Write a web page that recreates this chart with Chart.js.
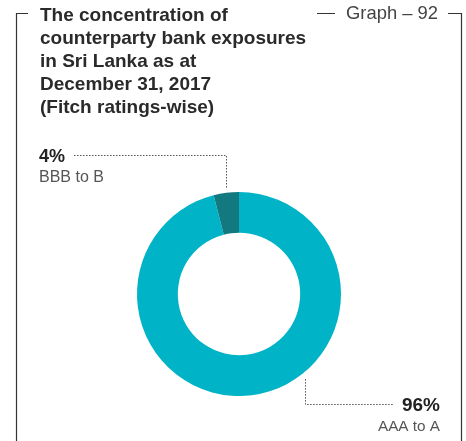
<!DOCTYPE html>
<html>
<head>
<meta charset="utf-8">
<script src="https://cdn.jsdelivr.net/npm/chart.js@4"></script>
<style>
  html, body { margin: 0; padding: 0; background: #fff; }
  #wrap { position: relative; width: 466px; height: 441px; }
</style>
</head>
<body>
<div id="wrap"><canvas id="graphCanvas" width="466" height="441"></canvas></div>
<script>
// Dữ liệu biểu đồ
const categories = ['AAA to A', 'BBB to B'];
const shares = [96, 4];
const segColors = ['#00b3c6', '#137980'];
const titleLines = [
  'The concentration of',
  'counterparty bank exposures',
  'in Sri Lanka as at',
  'December 31, 2017',
  '(Fitch ratings-wise)'
];
const graphNo = 'Graph \u2013 92';

const FONT = '"Liberation Sans", Arial, Helvetica, sans-serif';

// Khung, tiêu đề và nhãn chú thích
const decorPlugin = {
  id: 'decor',
  afterDraw(chart) {
    const c = chart.ctx;
    c.save();

    // khung viền
    c.strokeStyle = '#333';
    c.lineWidth = 1.2;
    c.beginPath();
    c.moveTo(28, 13.5); c.lineTo(16.5, 13.5); c.lineTo(16.5, 441);
    c.moveTo(448, 13.5); c.lineTo(461.5, 13.5); c.lineTo(461.5, 441);
    c.moveTo(317, 13.5); c.lineTo(335, 13.5);
    c.stroke();

    // tiêu đề
    c.fillStyle = '#2a2a2a';
    c.font = 'bold 19px ' + FONT;
    c.textBaseline = 'alphabetic';
    c.textAlign = 'left';
    titleLines.forEach((t, i) => c.fillText(t, 40, 21 + i * 23));

    c.fillStyle = '#444';
    c.font = '18.4px ' + FONT;
    c.fillText(graphNo, 346, 19);

    const meta = chart.getDatasetMeta(0);
    const small = meta.data[1];
    const big = meta.data[0];
    const cx = small.x, cy = small.y, r = small.outerRadius;

    c.strokeStyle = '#555';
    c.lineWidth = 1;
    c.setLineDash([1.5, 1.5]);

    // đường dẫn cho 4%
    const aS = (small.startAngle + small.endAngle) / 2;
    const sx = cx + Math.cos(aS) * (r + 5);
    const sy = cy + Math.sin(aS) * (r + 5);
    c.beginPath();
    c.moveTo(74, 155.5);
    c.lineTo(Math.round(sx) + 0.5, 155.5);
    c.lineTo(Math.round(sx) + 0.5, sy);
    c.stroke();

    // đường dẫn cho 96%
    const aB = big.startAngle + (big.endAngle - big.startAngle) * 0.411;
    const bx = cx + Math.cos(aB) * (r + 6);
    const by = cy + Math.sin(aB) * (r + 6);
    c.beginPath();
    c.moveTo(Math.round(bx) + 0.5, by);
    c.lineTo(Math.round(bx) + 0.5, 404.5);
    c.lineTo(393, 404.5);
    c.stroke();
    c.setLineDash([]);

    // nhãn
    c.fillStyle = '#222';
    c.font = 'bold 18px ' + FONT;
    c.textAlign = 'left';
    c.fillText(shares[1] + '%', 39, 162);
    c.font = '16px ' + FONT;
    c.fillStyle = '#555';
    c.fillText(categories[1], 39, 182);

    c.textAlign = 'right';
    c.fillStyle = '#222';
    c.font = 'bold 19px ' + FONT;
    c.fillText(shares[0] + '%', 440, 411);
    c.font = '15.3px ' + FONT;
    c.fillStyle = '#555';
    c.fillText(categories[0], 440, 431);

    c.restore();
  }
};

const ctx = document.getElementById('graphCanvas').getContext('2d');
const myChart = new Chart(ctx, {
  type: 'doughnut',
  data: {
    labels: categories,
    datasets: [{
      data: shares,
      backgroundColor: segColors,
      borderWidth: 0
    }]
  },
  options: {
    responsive: false,
    animation: false,
    cutout: '60%',
    layout: { padding: { top: 192, bottom: 45, left: 137, right: 125 } },
    plugins: {
      legend: { display: false },
      tooltip: { enabled: false }
    }
  },
  plugins: [decorPlugin]
});
</script>
</body>
</html>
